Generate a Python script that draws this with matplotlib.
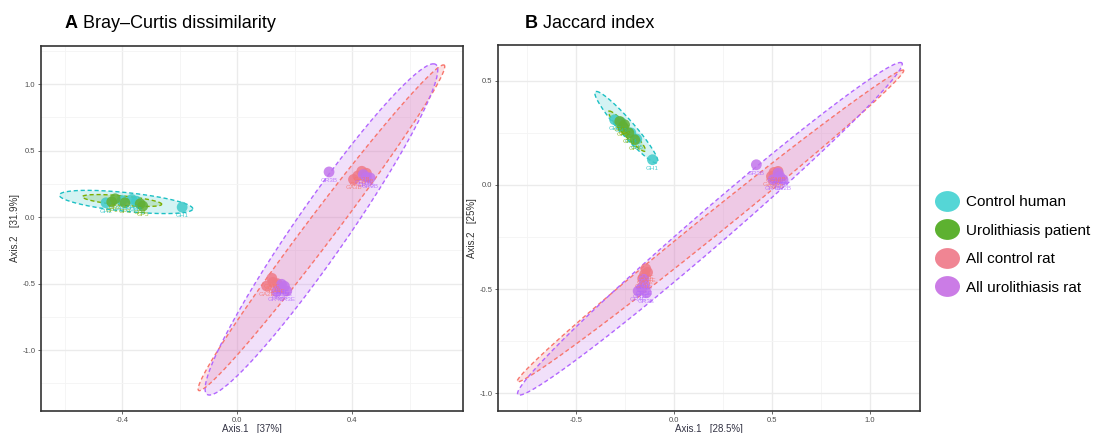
import numpy as np
import matplotlib
matplotlib.use("Agg")
import matplotlib.pyplot as plt
from matplotlib.path import Path
from matplotlib.lines import Line2D
from matplotlib.ticker import MultipleLocator, FormatStrFormatter

plt.rcParams["font.family"] = ["Liberation Sans", "DejaVu Sans"]
plt.rcParams["axes.unicode_minus"] = False

groups = ["Control human", "Urolithiasis patient", "All control rat", "All urolithiasis rat"]
colors = ["#3FCACA", "#62B035", "#F07A86", "#C274EC"]
edge_colors = ["#1CC0C4", "#7CAE00", "#F8766D", "#B266FF"]
legend_colors = ["#55D6D6", "#5DB130", "#F08593", "#CB7CE6"]

names = [
    ["GH2", "GH3", "GH4", "GH5", "GH1"],
    ["GP1", "GP2", "GP3", "GP4", "GP5"],
    ["GA2B", "GA1B", "GA3B", "GA4B", "GA1E", "GA2E", "GA3E", "GA4E"],
    ["GR3B", "GR1B", "GR2B", "GR4B", "GR1E", "GR2E", "GR3E", "GR4E", "GR5E"],
]

# PCoA coordinates, Bray-Curtis
bray_x = [
    [-0.456, -0.366, -0.400, -0.350, -0.191],
    [-0.436, -0.424, -0.390, -0.337, -0.328],
    [0.434, 0.420, 0.405, 0.450, 0.121, 0.103, 0.125, 0.140],
    [0.320, 0.439, 0.463, 0.450, 0.155, 0.151, 0.173, 0.137, 0.165],
]
bray_y = [
    [0.108, 0.133, 0.125, 0.120, 0.075],
    [0.115, 0.138, 0.108, 0.100, 0.083],
    [0.345, 0.310, 0.283, 0.330, -0.460, -0.518, -0.490, -0.500],
    [0.340, 0.320, 0.295, 0.300, -0.505, -0.540, -0.555, -0.560, -0.520],
]

# PCoA coordinates, Jaccard
jacc_x = [
    [-0.303, -0.270, -0.220, -0.190, -0.110],
    [-0.277, -0.252, -0.200, -0.230, -0.260],
    [0.531, 0.497, 0.520, 0.510, -0.144, -0.150, -0.160, -0.135],
    [0.420, 0.531, 0.556, 0.505, 0.540, -0.153, -0.166, -0.141, -0.183, -0.150],
]
jacc_y = [
    [0.313, 0.300, 0.250, 0.220, 0.121],
    [0.305, 0.289, 0.217, 0.250, 0.280],
    [0.065, 0.041, 0.030, 0.060, -0.403, -0.430, -0.450, -0.420],
    [0.097, 0.057, 0.025, 0.025, 0.040, -0.454, -0.494, -0.518, -0.510, -0.480],
]
jacc_names = [names[0], names[1], names[2],
              ["GR3B", "GR1B", "GR2B", "GR4B", "GR5B", "GR1E", "GR2E", "GR3E", "GR4E", "GR5E"]]

# 95% ellipses: centre, half major axis, half chord through centre
bray_ell_center = [(-0.386, 0.114), (-0.400, 0.125), (0.2935, -0.080), (0.2935, -0.0925)]
bray_ell_axis = [(0.232, -0.051), (0.138, -0.028), (0.4245, 1.225), (0.3895, 1.2455)]
bray_ell_half = [0.071, 0.035, 0.062, 0.110]
bray_ell_chord = ["v", "v", "h", "h"]

jacc_ell_center = [(-0.243, 0.277), (-0.240, 0.258), (0.186, -0.197), (0.183, -0.211)]
jacc_ell_axis = [(-0.153, 0.172), (-0.090, 0.097), (0.982, 0.749), (0.972, 0.799)]
jacc_ell_half = [0.050, 0.030, 0.089, 0.136]
jacc_ell_chord = ["h", "h", "h", "h"]


def ellipse_xy(center, axis, half, chord):
    t = np.linspace(0, 2 * np.pi, 200)
    v = (half, 0.0) if chord == "h" else (0.0, half)
    x = center[0] + axis[0] * np.cos(t) + v[0] * np.sin(t)
    y = center[1] + axis[1] * np.cos(t) + v[1] * np.sin(t)
    return x, y


def draw_panel(ax, xs, ys, labels, centers, axes_, halves, chords,
               xlim, ylim, xstep, ystep, xlabel, ylabel):
    ax.set_facecolor("white")
    for i in range(len(groups)):
        ex, ey = ellipse_xy(centers[i], axes_[i], halves[i], chords[i])
        ax.fill(ex, ey, color=colors[i], alpha=0.22, lw=0, zorder=1)
        ax.plot(ex, ey, color=edge_colors[i], lw=1.0, ls=(0, (3, 2)), zorder=2)
    for i in range(len(groups)):
        ax.scatter(xs[i], ys[i], s=60, color=colors[i], alpha=0.85,
                   edgecolors="none", zorder=3)
        for x, y, lab in zip(xs[i], ys[i], labels[i]):
            ax.annotate(lab, (x, y), xytext=(0, -6), textcoords="offset points",
                        ha="center", va="center", fontsize=4.5,
                        color=edge_colors[i], alpha=0.8, zorder=4)
    ax.set_xlim(*xlim)
    ax.set_ylim(*ylim)
    ax.xaxis.set_major_locator(MultipleLocator(xstep))
    ax.xaxis.set_minor_locator(MultipleLocator(xstep / 2))
    ax.yaxis.set_major_locator(MultipleLocator(ystep))
    ax.yaxis.set_minor_locator(MultipleLocator(ystep / 2))
    ax.xaxis.set_major_formatter(FormatStrFormatter("%.1f"))
    ax.yaxis.set_major_formatter(FormatStrFormatter("%.1f"))
    ax.grid(which="major", color="#EBEBEB", lw=1.0, zorder=0)
    ax.grid(which="minor", color="#F4F4F4", lw=0.6, zorder=0)
    ax.set_axisbelow(True)
    ax.tick_params(which="major", labelsize=5.5, labelcolor="#4D4D4D",
                   color="#4D4D4D", length=2.5, width=0.6, pad=1.5)
    ax.tick_params(which="minor", length=0)
    for sp in ax.spines.values():
        sp.set_color("#333333")
        sp.set_linewidth(1.2)
    ax.set_xlabel(xlabel, fontsize=7, color="#333344", labelpad=0)
    ax.set_ylabel(ylabel, fontsize=7, color="#333333", labelpad=2)


fig = plt.figure(figsize=(11.08, 4.33), dpi=100)
W, H = 1108, 433
ax_a = fig.add_axes([41 / W, 22 / H, 422 / W, 365 / H])
ax_b = fig.add_axes([498 / W, 22 / H, 422 / W, 366 / H])

draw_panel(ax_a, bray_x, bray_y, names, bray_ell_center, bray_ell_axis,
           bray_ell_half, bray_ell_chord, (-0.682, 0.786), (-1.458, 1.287),
           0.4, 0.5, "Axis.1   [37%]", "Axis.2   [31.9%]")
draw_panel(ax_b, jacc_x, jacc_y, jacc_names, jacc_ell_center, jacc_ell_axis,
           jacc_ell_half, jacc_ell_chord, (-0.898, 1.255), (-1.086, 0.672),
           0.5, 0.5, "Axis.1   [28.5%]", "Axis.2   [25%]")

# panel titles
fig.text(65 / W, 1 - 23 / H, "A", fontsize=13, weight="bold", va="center")
fig.text(83 / W, 1 - 23 / H, "Bray–Curtis dissimilarity", fontsize=13, va="center")
fig.text(525 / W, 1 - 23 / H, "B", fontsize=13, weight="bold", va="center")
fig.text(543 / W, 1 - 23 / H, "Jaccard index", fontsize=13, va="center")

# legend with oval keys
oval = Path(Path.unit_circle().vertices * np.array([1.2, 1.0]), Path.unit_circle().codes)
handles = [Line2D([], [], ls="none", marker=oval, markersize=18,
                  markerfacecolor=c, markeredgecolor="none") for c in legend_colors]
fig.legend(handles, groups, loc="center left", bbox_to_anchor=(929 / W, 1 - 245 / H),
           frameon=False, fontsize=11, handlelength=1.6, handletextpad=0.4,
           labelspacing=0.95, borderaxespad=0)

fig.savefig("out.png", dpi=100)
